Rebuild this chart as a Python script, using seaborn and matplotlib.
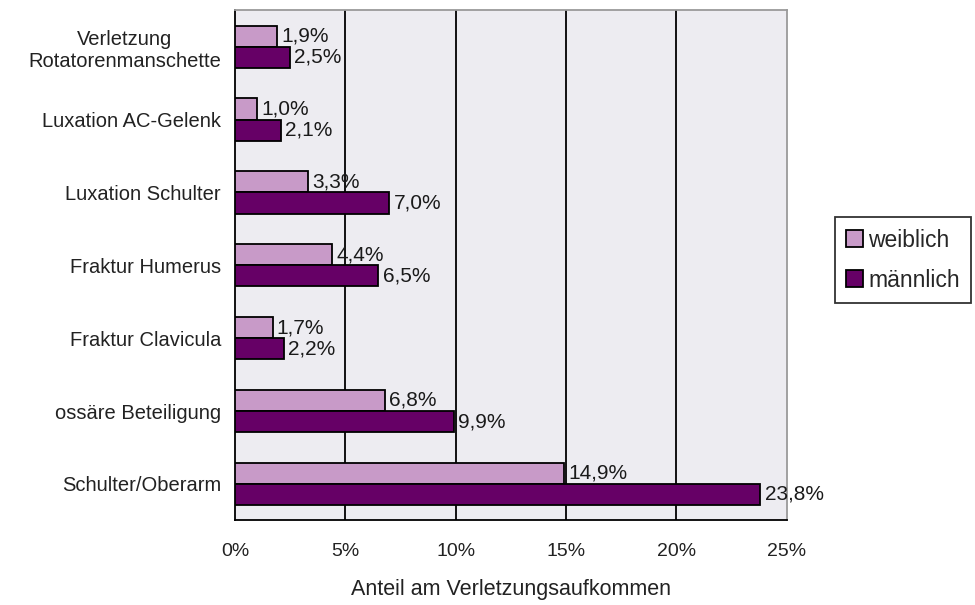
import matplotlib
matplotlib.use("Agg")
import matplotlib.pyplot as plt
import seaborn as sns
import pandas as pd
import numpy as np
from matplotlib.ticker import FixedLocator

categories = ["Verletzung\nRotatorenmanschette", "Luxation AC-Gelenk", "Luxation Schulter",
              "Fraktur Humerus", "Fraktur Clavicula", "ossäre Beteiligung", "Schulter/Oberarm"]
weiblich = [1.9, 1.0, 3.3, 4.4, 1.7, 6.8, 14.9]
maennlich = [2.5, 2.1, 7.0, 6.5, 2.2, 9.9, 23.8]
series = ["weiblich", "männlich"]
xticks = [0, 5, 10, 15, 20, 25]

df = pd.DataFrame({
    "Kategorie": categories * 2,
    "Wert": weiblich + maennlich,
    "Geschlecht": [series[0]] * len(categories) + [series[1]] * len(categories),
})

sns.set_style("white")
plt.rcParams["font.family"] = ["Liberation Sans", "DejaVu Sans"]

fig = plt.figure(figsize=(9.75, 6.05), dpi=100)
ax = fig.add_axes([0.241, 0.140, 0.566, 0.843])
ax.set_facecolor("#EDECF1")

palette = {"weiblich": "#C89AC8", "männlich": "#660066"}
sns.barplot(data=df, y="Kategorie", x="Wert", hue="Geschlecht", order=categories,
            hue_order=series, palette=palette, orient="h", width=0.58,
            edgecolor="black", linewidth=1.3, saturation=1, ax=ax, zorder=3)

ax.set_xlim(0, 25)
ax.set_ylim(len(categories) - 0.5, -0.5)
ax.set_xticks(xticks)
ax.set_xticklabels([f"{t}%" for t in xticks], fontsize=14, color="#222222")
for t in xticks[1:-1]:
    ax.axvline(t, color="black", lw=1.3, zorder=1)

ax.tick_params(axis="x", direction="out", length=6, width=1.3, color="black", pad=10)
ax.tick_params(axis="y", which="major", length=0, labelsize=14.5, labelcolor="#222222", pad=10)
for lbl in ax.get_yticklabels():
    lbl.set_multialignment("center")
ax.yaxis.set_minor_locator(FixedLocator(np.arange(-0.5, len(categories) + 0.5, 1)))
ax.tick_params(axis="y", which="minor", direction="out", length=5, width=1.3, color="black")

for c in ax.containers:
    labels = [f"{v:.1f}%".replace(".", ",") for v in c.datavalues]
    ax.bar_label(c, labels=labels, padding=3, fontsize=15, color="#1a1a1a")

ax.set_xlabel("Anteil am Verletzungsaufkommen", fontsize=15.5, labelpad=14, color="#222222")
ax.set_ylabel("")

for s in ["left", "bottom"]:
    ax.spines[s].set_color("black")
    ax.spines[s].set_linewidth(1.3)
for s in ["top", "right"]:
    ax.spines[s].set_color("#9A9A9A")
    ax.spines[s].set_linewidth(1.3)

handles, lbls = ax.get_legend_handles_labels()
leg = ax.legend(handles, lbls, loc="center left", bbox_to_anchor=(1.087, 0.51), frameon=True,
                fancybox=False, edgecolor="black", fontsize=16.5, handlelength=0.75,
                handleheight=0.75, handletextpad=0.2, borderpad=0.5, labelspacing=0.75,
                borderaxespad=0)
leg.get_frame().set_linewidth(1.3)

fig.savefig("out.png", dpi=100, facecolor="white")
